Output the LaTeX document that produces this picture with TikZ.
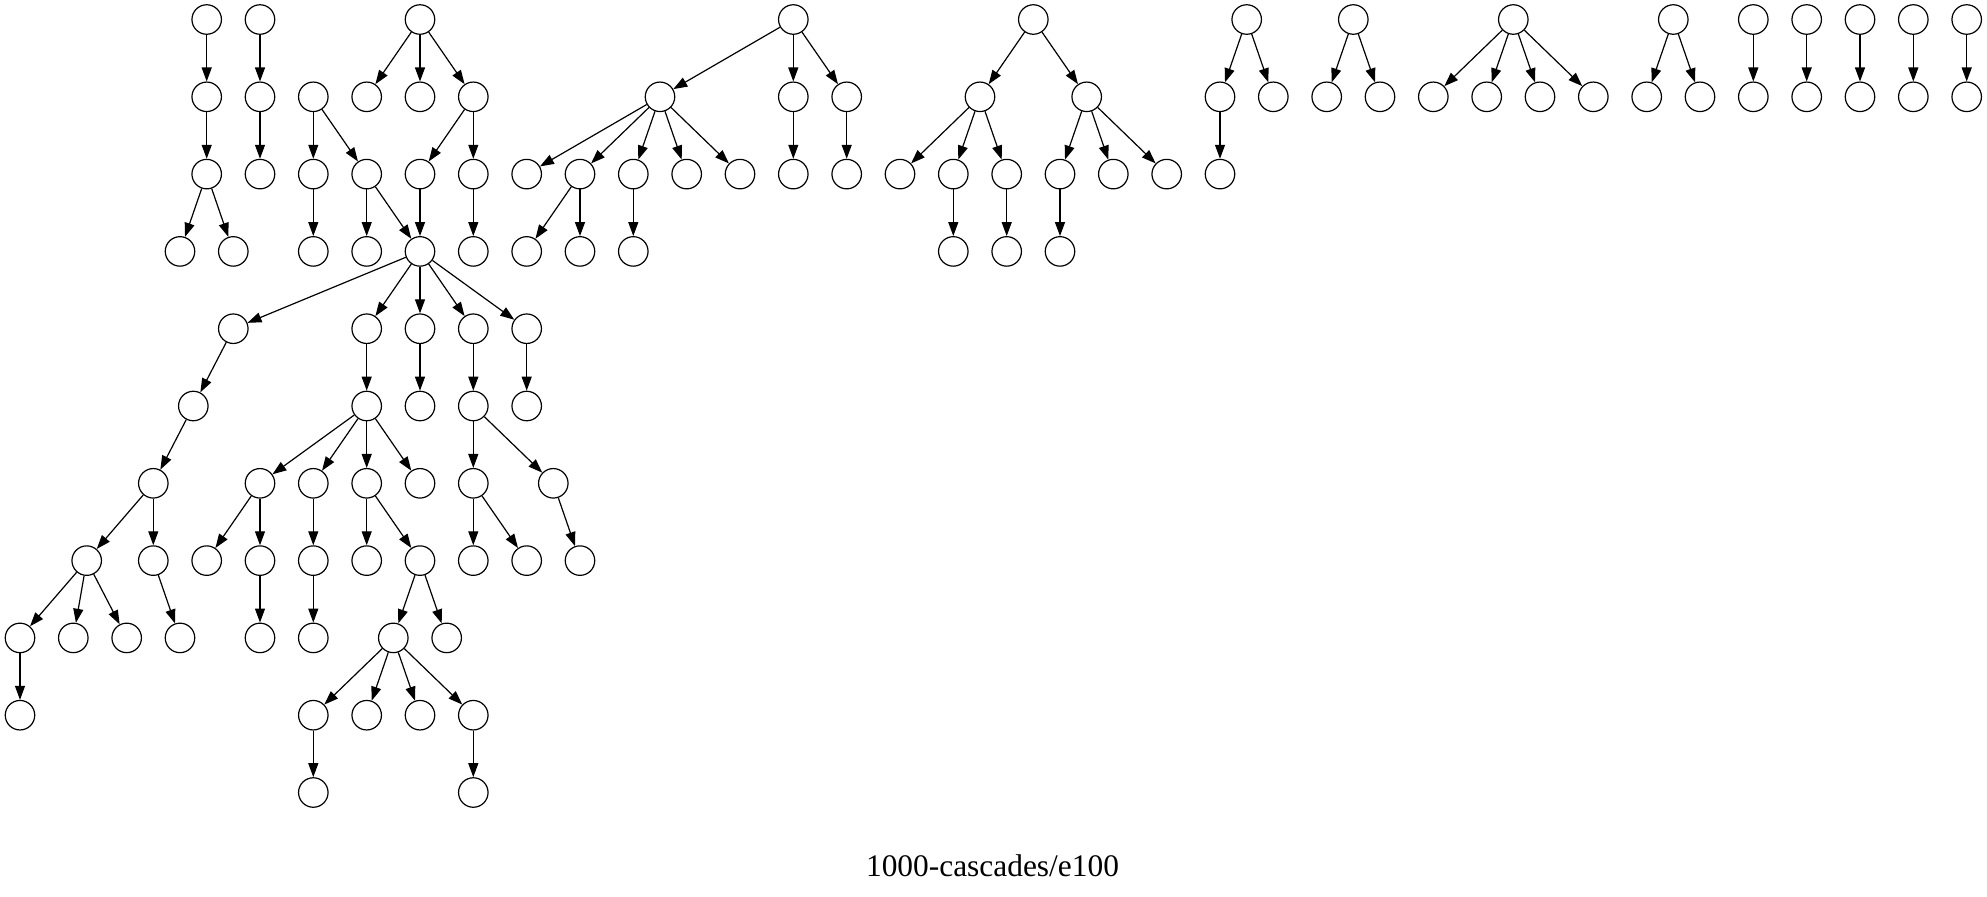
\documentclass[tikz,border=0pt]{standalone}
\usepackage{fontspec}
\setmainfont{Liberation Serif}
\usetikzlibrary{arrows.meta}

\tikzset{
  vert/.style={draw, circle, minimum size=14.75pt, inner sep=0pt, line width=0.6pt},
  arr/.style={-{Triangle[length=7pt,width=5pt]}, line width=0.6pt}
}

\begin{document}
\begin{tikzpicture}[x=0.5pt,y=-0.5pt]
\useasboundingbox (0,0) rectangle (1987,896);

% tree a
\node[vert] (a1) at (206.7,19.5) {};
\node[vert] (a2) at (206.7,96.8) {};
\node[vert] (a3) at (206.7,174.1) {};
\node[vert] (a4) at (180,251.4) {};
\node[vert] (a5) at (233.3,251.4) {};
\draw[arr] (a1) -- (a2);
\draw[arr] (a2) -- (a3);
\draw[arr] (a3) -- (a4);
\draw[arr] (a3) -- (a5);

% tree b
\node[vert] (b1) at (260,19.5) {};
\node[vert] (b2) at (260,96.8) {};
\node[vert] (b3) at (260,174.1) {};
\draw[arr] (b1) -- (b2);
\draw[arr] (b2) -- (b3);

% trees c and d share the hub
\node[vert] (c1) at (420,19.5) {};
\node[vert] (c2) at (366.7,96.8) {};
\node[vert] (c3) at (420,96.8) {};
\node[vert] (c4) at (473.3,96.8) {};
\node[vert] (c5) at (420,174.1) {};
\node[vert] (c6) at (473.3,174.1) {};
\node[vert] (c7) at (473.3,251.4) {};
\node[vert] (d1) at (313.3,96.8) {};
\node[vert] (d2) at (313.3,174.1) {};
\node[vert] (d3) at (366.7,174.1) {};
\node[vert] (d4) at (313.3,251.4) {};
\node[vert] (d5) at (366.7,251.4) {};
\node[vert] (hub) at (420,251.4) {};
\draw[arr] (c1) -- (c2);
\draw[arr] (c1) -- (c3);
\draw[arr] (c1) -- (c4);
\draw[arr] (c4) -- (c5);
\draw[arr] (c4) -- (c6);
\draw[arr] (c6) -- (c7);
\draw[arr] (c5) -- (hub);
\draw[arr] (d1) -- (d2);
\draw[arr] (d1) -- (d3);
\draw[arr] (d2) -- (d4);
\draw[arr] (d3) -- (d5);
\draw[arr] (d3) -- (hub);

\node[vert] (h1) at (233.3,328.7) {};
\node[vert] (h2) at (366.7,328.7) {};
\node[vert] (h3) at (420,328.7) {};
\node[vert] (h4) at (473.3,328.7) {};
\node[vert] (h5) at (526.7,328.7) {};
\draw[arr] (hub) -- (h1);
\draw[arr] (hub) -- (h2);
\draw[arr] (hub) -- (h3);
\draw[arr] (hub) -- (h4);
\draw[arr] (hub) -- (h5);

% left branch
\node[vert] (p1) at (193.3,406) {};
\node[vert] (p2) at (153.3,483.3) {};
\node[vert] (p3) at (86.7,560.6) {};
\node[vert] (p4) at (153.3,560.6) {};
\node[vert] (p5) at (20,637.9) {};
\node[vert] (p6) at (73.3,637.9) {};
\node[vert] (p7) at (126.7,637.9) {};
\node[vert] (p8) at (180,637.9) {};
\node[vert] (p9) at (20,715.2) {};
\draw[arr] (h1) -- (p1);
\draw[arr] (p1) -- (p2);
\draw[arr] (p2) -- (p3);
\draw[arr] (p2) -- (p4);
\draw[arr] (p3) -- (p5);
\draw[arr] (p3) -- (p6);
\draw[arr] (p3) -- (p7);
\draw[arr] (p4) -- (p8);
\draw[arr] (p5) -- (p9);

% middle branch
\node[vert] (k1) at (366.7,406) {};
\node[vert] (k2) at (260,483.3) {};
\node[vert] (k3) at (313.3,483.3) {};
\node[vert] (k4) at (366.7,483.3) {};
\node[vert] (k5) at (420,483.3) {};
\node[vert] (k6) at (206.7,560.6) {};
\node[vert] (k7) at (260,560.6) {};
\node[vert] (k8) at (260,637.9) {};
\node[vert] (k9) at (313.3,560.6) {};
\node[vert] (k10) at (313.3,637.9) {};
\node[vert] (k11) at (366.7,560.6) {};
\node[vert] (k12) at (420,560.6) {};
\node[vert] (k13) at (393.3,637.9) {};
\node[vert] (k14) at (446.7,637.9) {};
\node[vert] (k15) at (313.3,715.2) {};
\node[vert] (k16) at (366.7,715.2) {};
\node[vert] (k17) at (420,715.2) {};
\node[vert] (k18) at (473.3,715.2) {};
\node[vert] (k19) at (313.3,792.5) {};
\node[vert] (k20) at (473.3,792.5) {};
\draw[arr] (h2) -- (k1);
\draw[arr] (k1) -- (k2);
\draw[arr] (k1) -- (k3);
\draw[arr] (k1) -- (k4);
\draw[arr] (k1) -- (k5);
\draw[arr] (k2) -- (k6);
\draw[arr] (k2) -- (k7);
\draw[arr] (k7) -- (k8);
\draw[arr] (k3) -- (k9);
\draw[arr] (k9) -- (k10);
\draw[arr] (k4) -- (k11);
\draw[arr] (k4) -- (k12);
\draw[arr] (k12) -- (k13);
\draw[arr] (k12) -- (k14);
\draw[arr] (k13) -- (k15);
\draw[arr] (k13) -- (k16);
\draw[arr] (k13) -- (k17);
\draw[arr] (k13) -- (k18);
\draw[arr] (k15) -- (k19);
\draw[arr] (k18) -- (k20);

% right branches
\node[vert] (n1) at (420,406) {};
\node[vert] (n2) at (526.7,406) {};
\node[vert] (m1) at (473.3,406) {};
\node[vert] (m2) at (473.3,483.3) {};
\node[vert] (m3) at (553.3,483.3) {};
\node[vert] (m4) at (473.3,560.6) {};
\node[vert] (m5) at (526.7,560.6) {};
\node[vert] (m6) at (580,560.6) {};
\draw[arr] (h3) -- (n1);
\draw[arr] (h5) -- (n2);
\draw[arr] (h4) -- (m1);
\draw[arr] (m1) -- (m2);
\draw[arr] (m1) -- (m3);
\draw[arr] (m2) -- (m4);
\draw[arr] (m2) -- (m5);
\draw[arr] (m3) -- (m6);

% tree e
\node[vert] (e1) at (793.3,19.5) {};
\node[vert] (e2) at (660,96.8) {};
\node[vert] (e3) at (793.3,96.8) {};
\node[vert] (e4) at (846.7,96.8) {};
\node[vert] (e5) at (526.7,174.1) {};
\node[vert] (e6) at (580,174.1) {};
\node[vert] (e7) at (633.3,174.1) {};
\node[vert] (e8) at (686.7,174.1) {};
\node[vert] (e9) at (740,174.1) {};
\node[vert] (e10) at (793.3,174.1) {};
\node[vert] (e11) at (846.7,174.1) {};
\node[vert] (e12) at (526.7,251.4) {};
\node[vert] (e13) at (580,251.4) {};
\node[vert] (e14) at (633.3,251.4) {};
\draw[arr] (e1) -- (e2);
\draw[arr] (e1) -- (e3);
\draw[arr] (e1) -- (e4);
\draw[arr] (e2) -- (e5);
\draw[arr] (e2) -- (e6);
\draw[arr] (e2) -- (e7);
\draw[arr] (e2) -- (e8);
\draw[arr] (e2) -- (e9);
\draw[arr] (e6) -- (e12);
\draw[arr] (e6) -- (e13);
\draw[arr] (e7) -- (e14);
\draw[arr] (e3) -- (e10);
\draw[arr] (e4) -- (e11);

% tree f
\node[vert] (f1) at (1033.3,19.5) {};
\node[vert] (f2) at (980,96.8) {};
\node[vert] (f3) at (1086.7,96.8) {};
\node[vert] (f4) at (900,174.1) {};
\node[vert] (f5) at (953.3,174.1) {};
\node[vert] (f6) at (1006.7,174.1) {};
\node[vert] (f7) at (1060,174.1) {};
\node[vert] (f8) at (1113.3,174.1) {};
\node[vert] (f9) at (1166.7,174.1) {};
\node[vert] (f10) at (953.3,251.4) {};
\node[vert] (f11) at (1006.7,251.4) {};
\node[vert] (f12) at (1060,251.4) {};
\draw[arr] (f1) -- (f2);
\draw[arr] (f1) -- (f3);
\draw[arr] (f2) -- (f4);
\draw[arr] (f2) -- (f5);
\draw[arr] (f2) -- (f6);
\draw[arr] (f3) -- (f7);
\draw[arr] (f3) -- (f8);
\draw[arr] (f3) -- (f9);
\draw[arr] (f5) -- (f10);
\draw[arr] (f6) -- (f11);
\draw[arr] (f7) -- (f12);

% small trees
\node[vert] (q1) at (1246.7,19.5) {};
\node[vert] (q2) at (1220,96.8) {};
\node[vert] (q3) at (1273.3,96.8) {};
\node[vert] (q4) at (1220,174.1) {};
\draw[arr] (q1) -- (q2);
\draw[arr] (q1) -- (q3);
\draw[arr] (q2) -- (q4);

\node[vert] (r1) at (1353.3,19.5) {};
\node[vert] (r2) at (1326.7,96.8) {};
\node[vert] (r3) at (1380,96.8) {};
\draw[arr] (r1) -- (r2);
\draw[arr] (r1) -- (r3);

\node[vert] (s1) at (1513.3,19.5) {};
\node[vert] (s2) at (1433.3,96.8) {};
\node[vert] (s3) at (1486.7,96.8) {};
\node[vert] (s4) at (1540,96.8) {};
\node[vert] (s5) at (1593.3,96.8) {};
\draw[arr] (s1) -- (s2);
\draw[arr] (s1) -- (s3);
\draw[arr] (s1) -- (s4);
\draw[arr] (s1) -- (s5);

\node[vert] (t1) at (1673.3,19.5) {};
\node[vert] (t2) at (1646.7,96.8) {};
\node[vert] (t3) at (1700,96.8) {};
\draw[arr] (t1) -- (t2);
\draw[arr] (t1) -- (t3);

% single pairs
\foreach \i/\px in {1/1753.3, 2/1806.7, 3/1860, 4/1913.3, 5/1966.7} {
  \node[vert] (u\i) at (\px,19.5) {};
  \node[vert] (v\i) at (\px,96.8) {};
  \draw[arr] (u\i) -- (v\i);
}

\node[anchor=base, font=\fontsize{15.7}{18}\selectfont] (title) at (992.5,876.5) {1000-cascades/e100};
\end{tikzpicture}
\end{document}
